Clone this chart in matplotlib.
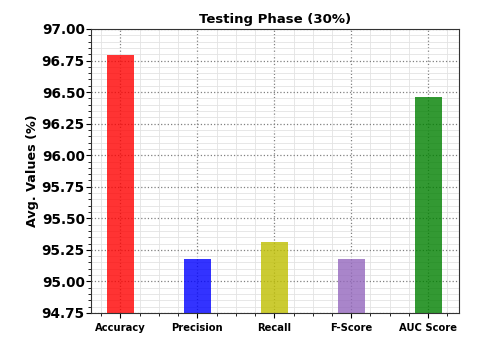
import matplotlib
matplotlib.use("Agg")
import matplotlib.pyplot as plt
from matplotlib.ticker import MultipleLocator, AutoMinorLocator

categories = ["Accuracy", "Precision", "Recall", "F-Score", "AUC Score"]
values = [96.79, 95.18, 95.31, 95.18, 96.46]
colors = ["r", "b", "y", "tab:purple", "g"]
yticks = [94.75, 95.00, 95.25, 95.50, 95.75, 96.00, 96.25, 96.50, 96.75, 97.00]

fig = plt.figure(figsize=(4.92, 3.43), dpi=100)
ax = fig.add_axes([0.185, 0.0875, 0.748, 0.828])
ax.set_axisbelow(True)
x = list(range(len(categories)))
ax.bar(x, values, width=0.35, color=colors, alpha=0.8)
ax.set_xlim(-0.38, 4.4)
ax.set_ylim(94.75, 97.00)
ax.set_yticks(yticks)
ax.set_yticklabels([f"{v:.2f}" for v in yticks], fontweight="bold", fontsize=9.8)
ax.set_xticks(x)
ax.set_xticklabels(categories, fontweight="bold", fontsize=7.2)
ax.tick_params(axis="y", pad=1)
ax.xaxis.set_minor_locator(MultipleLocator(0.25))
ax.yaxis.set_minor_locator(AutoMinorLocator(5))
ax.grid(which="major", linestyle=":", color="gray", linewidth=0.9)
ax.grid(which="minor", linestyle="-", color="#e3e3e3", linewidth=0.6)
ax.set_ylabel("Avg. Values (%)", fontweight="bold", fontsize=9.2, labelpad=2)
ax.set_title("Testing Phase (30%)", fontweight="bold", fontsize=9.5, pad=4)
for s in ax.spines.values():
    s.set_color("#333333")
fig.savefig("out.png", dpi=100)
